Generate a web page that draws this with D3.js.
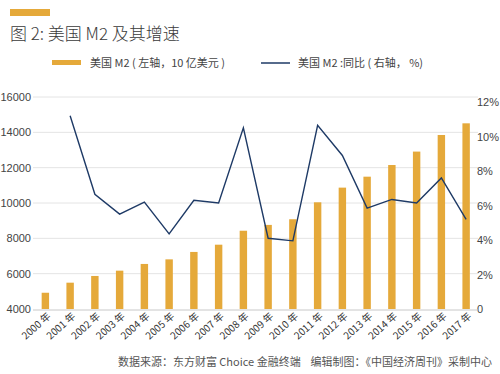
<!DOCTYPE html>
<html>
<head>
<meta charset="utf-8">
<script src="https://cdn.jsdelivr.net/npm/d3@7"></script>
<style>
  body { margin: 0; background: #fff; }
  text { font-family: "Noto Sans CJK SC", "Noto Sans", sans-serif; }
</style>
</head>
<body>
<div id="chart"></div>
<script>
const years = ["2000", "2001", "2002", "2003", "2004", "2005", "2006", "2007", "2008",
               "2009", "2010", "2011", "2012", "2013", "2014", "2015", "2016", "2017"];
const m2 = [4920, 5490, 5870, 6170, 6550, 6810, 7230, 7640, 8430,
            8760, 9080, 10040, 10870, 11490, 12150, 12910, 13850, 14510];
// growth starts in 2001
const growthYears = years.slice(1);
const growth = [11.2, 6.65, 5.5, 6.2, 4.35, 6.3, 6.15, 10.5,
                4.1, 3.95, 10.65, 8.9, 5.85, 6.35, 6.15, 7.6, 5.2];
const leftTicks = [4000, 6000, 8000, 10000, 12000, 14000, 16000];
const rightTicks = [0, 2, 4, 6, 8, 10, 12];

const width = 500, height = 374;
const barColor = "#e5a93a";
const lineColor = "#1e3a66";

const svg = d3.select("#chart").append("svg")
    .attr("width", width).attr("height", height);

// header decoration + title
svg.append("rect").attr("x", 10).attr("y", 9).attr("width", 40).attr("height", 7)
    .attr("fill", barColor);
svg.append("text").attr("x", 10).attr("y", 40)
    .attr("font-size", 17).attr("fill", "#3a3a3a").attr("font-weight", 300)
    .text("图 2: 美国 M2 及其增速");

// legend
svg.append("rect").attr("x", 52).attr("y", 60).attr("width", 29).attr("height", 5)
    .attr("fill", barColor);
svg.append("text").attr("x", 90).attr("y", 67)
    .attr("font-size", 11).attr("fill", "#444")
    .text("美国 M2 ( 左轴，10 亿美元 )");
svg.append("line").attr("x1", 261).attr("x2", 290).attr("y1", 63).attr("y2", 63)
    .attr("stroke", lineColor).attr("stroke-width", 1.5);
svg.append("text").attr("x", 298).attr("y", 67)
    .attr("font-size", 11).attr("fill", "#444")
    .text("美国 M2 :同比 ( 右轴， %)");

const x = d3.scaleBand().domain(years).range([33, 478.5]).paddingInner(0.7).paddingOuter(0.35);
const yL = d3.scaleLinear().domain([4000, 16000]).range([309, 97]);
const yR = d3.scaleLinear().domain([0, 12]).range([309, 102]);

// gridlines
svg.append("g").selectAll("line").data(leftTicks.slice(1))
    .enter().append("line")
    .attr("x1", 33).attr("x2", 478)
    .attr("y1", d => yL(d)).attr("y2", d => yL(d))
    .attr("stroke", "#e4e4e4").attr("stroke-width", 1);

// left axis
const leftAxis = svg.append("g").attr("transform", "translate(33,0)")
    .call(d3.axisLeft(yL).tickValues(leftTicks).tickSize(0).tickPadding(2).tickFormat(d3.format("d")));
leftAxis.select(".domain").remove();
leftAxis.selectAll("text").attr("font-size", 11).attr("fill", "#444")
    .style("font-family", "'Liberation Sans', Arial, sans-serif");

// right axis
const rightAxis = svg.append("g").attr("transform", "translate(475,0)")
    .call(d3.axisRight(yR).tickValues(rightTicks).tickSize(0).tickPadding(2)
        .tickFormat(d => d === 0 ? "0" : d + "%"));
rightAxis.select(".domain").remove();
rightAxis.selectAll("text").attr("font-size", 11).attr("fill", "#444")
    .style("font-family", "'Liberation Sans', Arial, sans-serif");

// bars
svg.append("g").selectAll("rect").data(m2)
    .enter().append("rect")
    .attr("x", (d, i) => x(years[i]))
    .attr("y", d => yL(d))
    .attr("width", x.bandwidth())
    .attr("height", d => yL(4000) - yL(d))
    .attr("fill", barColor);

// baseline
svg.append("line").attr("x1", 33).attr("x2", 478).attr("y1", 310).attr("y2", 310)
    .attr("stroke", "#c8c8c8").attr("stroke-width", 1);

// growth line
const line = d3.line()
    .x((d, i) => x(growthYears[i]) + x.bandwidth() / 2)
    .y(d => yR(d));
svg.append("path").datum(growth)
    .attr("d", line)
    .attr("fill", "none")
    .attr("stroke", lineColor).attr("stroke-width", 1.4);

// x labels
svg.append("g").selectAll("text").data(years)
    .enter().append("text")
    .attr("transform", d => "translate(" + (x(d) + x.bandwidth() / 2 + 6) + ",317) rotate(-42)")
    .attr("text-anchor", "end")
    .attr("font-size", 10).attr("fill", "#333")
    .text(d => d + " 年");

// source
svg.append("text").attr("x", 492).attr("y", 366)
    .attr("text-anchor", "end")
    .attr("font-size", 11).attr("fill", "#555")
    .style("white-space", "pre")
    .text("数据来源：东方财富 Choice 金融终端    编辑制图：《中国经济周刊》采制中心");
</script>
</body>
</html>
